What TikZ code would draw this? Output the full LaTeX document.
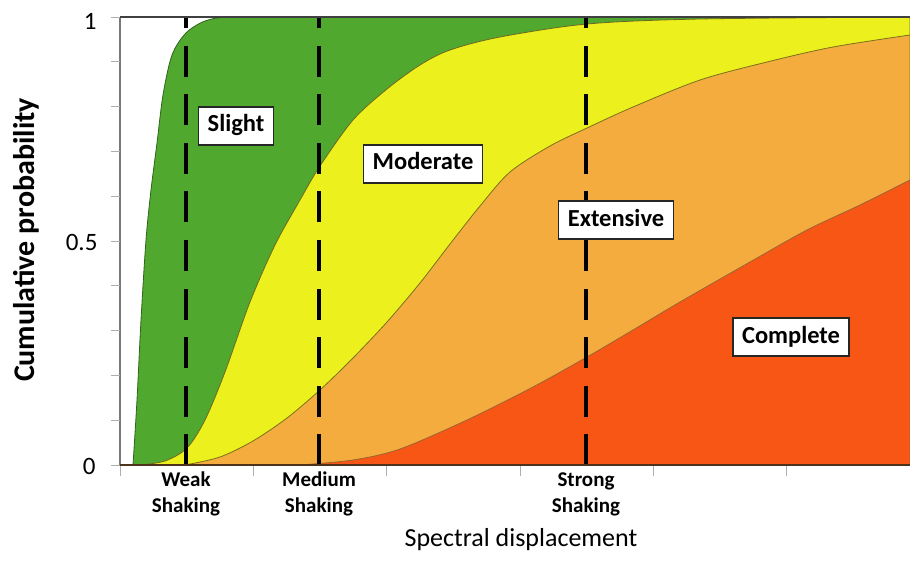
\documentclass[tikz,border=0pt]{standalone}
\usepackage{fontspec}
\setmainfont{Carlito}
\definecolor{slightGreen}{RGB}{80,168,46}
\definecolor{moderateYellow}{RGB}{236,240,28}
\definecolor{extensiveOrange}{RGB}{245,172,62}
\definecolor{completeRed}{RGB}{247,86,20}
\definecolor{axisGray}{RGB}{120,120,120}
\newcommand{\plotTop}[0]{17}
\newcommand{\plotBottom}[0]{465}

\begin{document}
\begin{tikzpicture}[x=1pt, y=-1pt]
  \tikzset{damage box/.style={draw=black!85, line width=1.3pt, fill=white,
      font=\fontsize{24.5}{28}\selectfont\bfseries, inner xsep=9pt, inner ysep=8pt,
      text height=17pt, text depth=5pt},
    shaking/.style={align=center, font=\fontsize{21}{26}\selectfont\bfseries},
    tick label/.style={anchor=east, font=\fontsize{25}{28}\selectfont},
    small tick/.style={axisGray!60, line width=0.8pt}}
  \useasboundingbox (0,0) rectangle (910,580);
  % damage states, one area under each curve
  \draw[fill=slightGreen, draw=slightGreen!60!black, line width=0.8pt]
    plot[smooth] coordinates {(133,465) (137,400) (141,320) (146,240) (151,190)
      (157,143) (163,95) (172,55) (186,33) (205,21) (230,17) (300,17)}
    -- (910,17) -- (910,465) -- cycle;
  \draw[fill=moderateYellow, draw=olive!70!black, line width=0.8pt]
    plot[smooth] coordinates {(140,465) (165,461) (187,448) (205,420) (225,372)
      (250,302) (275,245) (300,200) (320,166) (353,120) (387,89) (420,65)
      (450,50) (500,37) (587,24) (700,19) (910,17)}
    -- (910,465) -- cycle;
  \draw[fill=extensiveOrange, draw=olive!80!black, line width=0.8pt]
    plot[smooth] coordinates {(185,465) (220,457) (253,441) (287,418) (320,390)
      (353,358) (387,322) (420,283) (450,244) (480,206) (510,172) (550,146)
      (587,128) (633,107) (700,80) (767,62) (833,47) (910,35)}
    -- (910,465) -- cycle;
  \draw[fill=completeRed, draw=brown!80!black, line width=0.8pt]
    plot[smooth] coordinates {(300,465) (353,460) (400,449) (467,420) (533,387)
      (587,357) (633,330) (680,302) (750,262) (807,230) (860,205) (910,180)}
    -- (910,465) -- cycle;

  % shaking levels
  \foreach \name/\xpos in {weak/186, medium/319, strong/586} {
    \coordinate (\name-b) at (\xpos,\plotBottom);
    \coordinate (\name-t) at (\xpos,\plotTop);
    \draw[black, line width=3.5pt, dash pattern=on 31pt off 17.5pt] (\name-b) -- (\name-t);
  }

  % axes and ticks
  \draw[axisGray, line width=1.4pt] (120,\plotTop) -- (120,\plotBottom);
  \draw[black!75, line width=2.2pt] (120,\plotTop) -- (910,\plotTop);
  \draw[black!60!brown, line width=2pt] (120,\plotBottom) -- (910,\plotBottom);
  \foreach \k in {0,...,10}
    \draw[small tick] (111,{465-44.8*\k}) -- (120,{465-44.8*\k});
  \foreach \k in {0,...,5}
    \draw[small tick] ({120+133.3*\k},466) -- ({120+133.3*\k},476);

  \node[tick label] (y-one) at (100,21) {1};
  \node[tick label] (y-half) at (101,242) {0.5};
  \node[tick label] (y-zero) at (99,466) {0};

  \node[shaking] (weak-label) at ([yshift=-29pt]weak-b) {Weak\\Shaking};
  \node[shaking] (medium-label) at ([yshift=-29pt]medium-b) {Medium\\Shaking};
  \node[shaking] (strong-label) at ([yshift=-29pt]strong-b) {Strong\\Shaking};

  \node[damage box] (slight) at (236,126) {Slight};
  \node[damage box] (moderate) at (423,164) {Moderate};
  \node[damage box] (extensive) at (616,220) {Extensive};
  \node[damage box] (complete) at (791,337) {Complete};

  \node[rotate=90, font=\fontsize{30}{34}\selectfont\bfseries] (y-title) at (26,240) {Cumulative probability};
  \node[font=\fontsize{26}{30}\selectfont] (x-title) at (521,540) {Spectral displacement};
\end{tikzpicture}
\end{document}
